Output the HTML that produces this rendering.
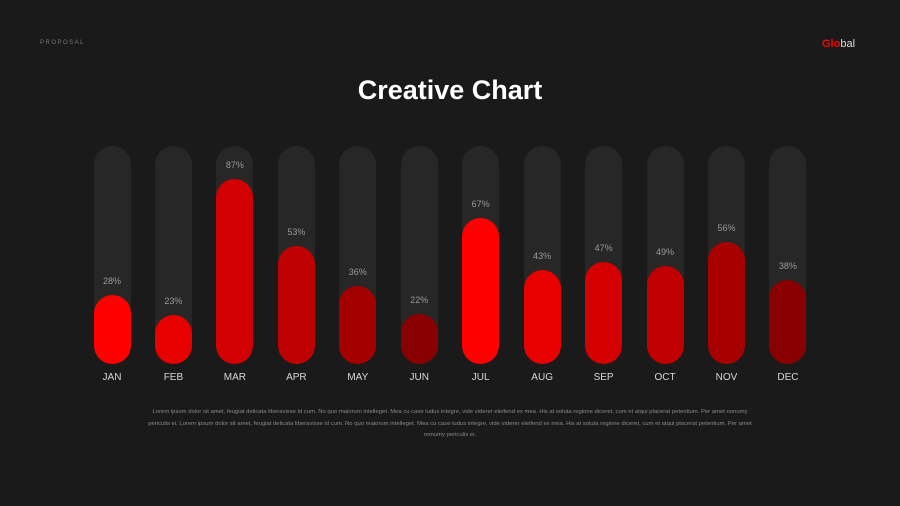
<!DOCTYPE html>
<html><head><meta charset="utf-8"><style>
body{margin:0;background:#1a1a1a;}
#c{position:relative;width:900px;height:506px;background:#1a1a1a;overflow:hidden;font-family:"Liberation Sans",sans-serif;}
.t{position:absolute;top:146px;width:37px;height:218px;border-radius:18.5px;background:#272727;}
.b{position:absolute;width:37px;border-radius:18.5px;}
.p{position:absolute;width:60px;text-align:center;font-size:9px;color:#9a9a9a;}
.m{position:absolute;top:372px;width:60px;text-align:center;font-size:10px;color:#d8d8d8;}
</style></head><body><div id="c">
<div style="position:absolute;left:40px;top:40px;font-size:6px;letter-spacing:1.5px;color:#777">PROPOSAL</div>
<div style="position:absolute;left:822px;top:38px;font-size:11px;font-weight:bold;color:#f00">Glo<span style="color:#ddd;font-weight:normal">bal</span></div>
<div style="position:absolute;left:0;width:900px;top:75px;text-align:center;font-size:27px;font-weight:bold;color:#fff">Creative Chart</div>
<div id="bars"></div>
<div style="position:absolute;left:148px;width:604px;top:407px;text-align:center;font-size:5.9px;line-height:11.5px;color:#8a8a8a">Lorem ipsum dolor sit amet, feugiat delicata liberavisse id cum. No quo maiorum intelleget. Mea cu case ludus integre, vide viderer eleifend ex mea. His at soluta regione diceret, cum et atqui placerat petentium. Per amet nonumy periculis ei. Lorem ipsum dolor sit amet, feugiat delicata liberavisse id cum. No quo maiorum intelleget. Mea cu case ludus integre, vide viderer eleifend ex mea. His at soluta regione diceret, cum et atqui placerat petentium. Per amet nonumy periculis ei.</div>
<script>
var d=[["JAN",28,295,"#ff0000"],["FEB",23,315,"#e60000"],["MAR",87,179,"#d20000"],["APR",53,246,"#bf0000"],["MAY",36,286,"#a50000"],["JUN",22,314,"#8a0000"],["JUL",67,218,"#ff0000"],["AUG",43,270,"#e60000"],["SEP",47,262,"#d40000"],["OCT",49,266,"#c00000"],["NOV",56,242,"#a80000"],["DEC",38,280,"#8a0000"]];
var h="";
d.forEach(function(e,i){var cx=112+i*61.45,l=cx-18.5;
h+='<div class="t" style="left:'+l+'px"></div>';
h+='<div class="b" style="left:'+l+'px;top:'+e[2]+'px;height:'+(364-e[2])+'px;background:'+e[3]+'"></div>';
h+='<div class="p" style="left:'+(cx-30)+'px;top:'+(e[2]-19)+'px">'+e[1]+'%</div>';
h+='<div class="m" style="left:'+(cx-30)+'px">'+e[0]+'</div>';});
document.getElementById("bars").innerHTML=h;
</script>
</div></body></html>
